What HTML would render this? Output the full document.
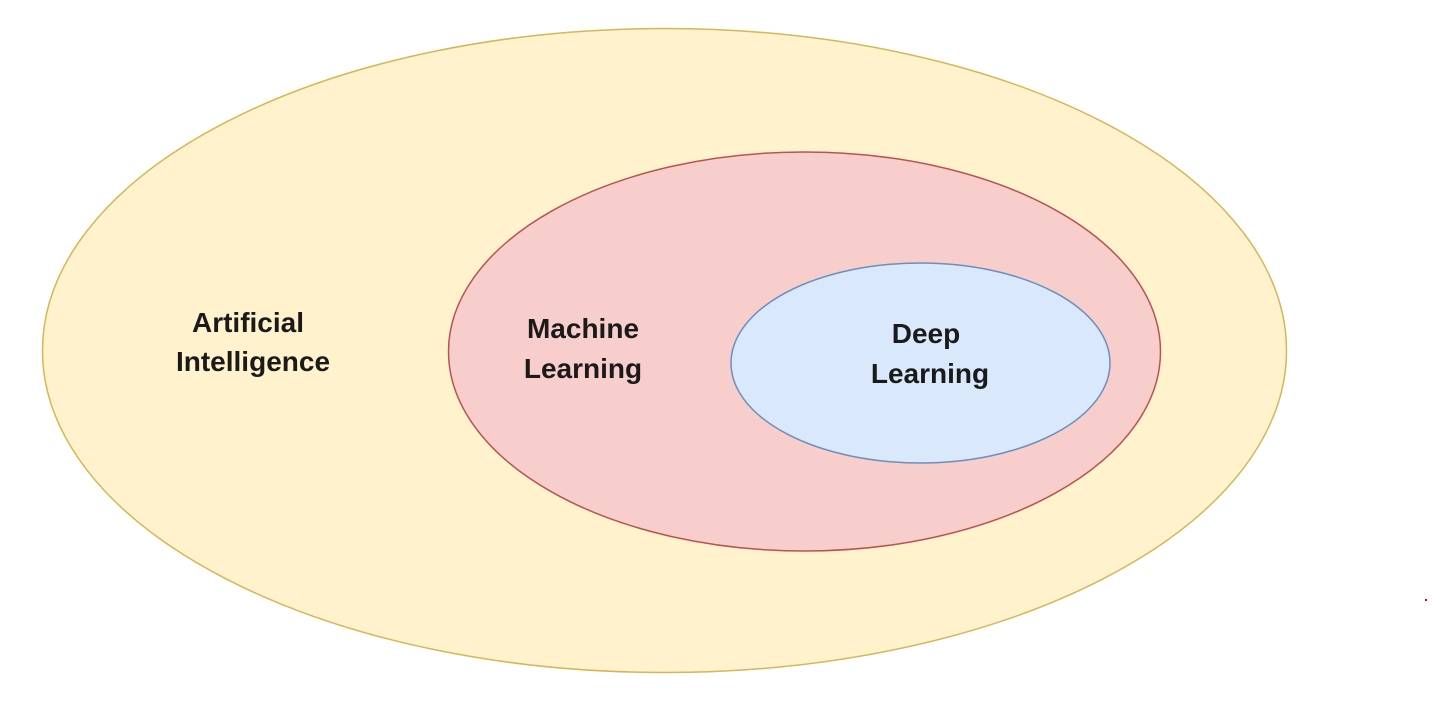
<!DOCTYPE html>
<html><head><meta charset="utf-8"><style>
html,body{margin:0;padding:0;background:#fff;}
svg{display:block;}
text{font-family:"Liberation Sans",Arial,sans-serif;font-weight:bold;font-size:28px;fill:#1a1a1a;}
</style></head><body>
<svg width="1438" height="704" viewBox="0 0 1438 704" xmlns="http://www.w3.org/2000/svg">
<rect width="1438" height="704" fill="#fff"/>
<ellipse cx="664.5" cy="350.5" rx="622" ry="322" fill="#fff2cc" stroke="#d6b656" stroke-width="1.5"/>
<ellipse cx="804.5" cy="351.5" rx="356" ry="199.5" fill="#f8cecc" stroke="#b85450" stroke-width="1.5"/>
<ellipse cx="920.5" cy="363" rx="189.5" ry="100" fill="#dae8fc" stroke="#6c8ebf" stroke-width="1.5"/>
<text x="248" y="332" text-anchor="middle">Artificial</text>
<text x="253" y="371" text-anchor="middle">Intelligence</text>
<text x="583" y="338" text-anchor="middle">Machine</text>
<text x="583" y="378" text-anchor="middle">Learning</text>
<text x="926" y="343" text-anchor="middle">Deep</text>
<text x="930" y="383" text-anchor="middle">Learning</text>
<rect x="1425" y="599" width="2" height="2" fill="#d00"/>
</svg>
</body></html>
